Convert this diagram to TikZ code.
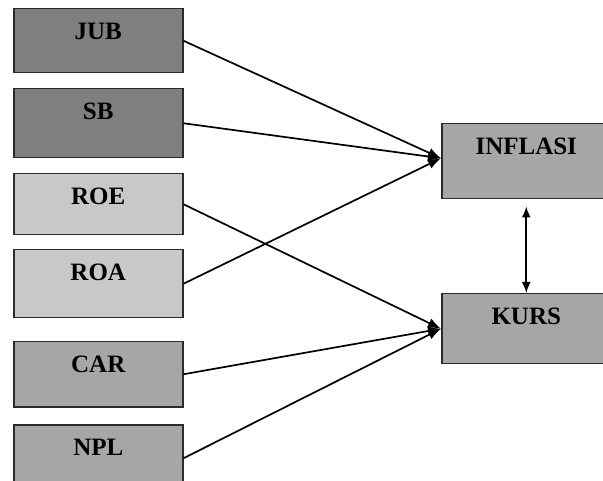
\documentclass[tikz,border=0pt]{standalone}
\usepackage{fontspec}
\setmainfont{Liberation Serif}
\usepackage{tikz}
\usetikzlibrary{positioning,calc,arrows.meta}
\definecolor{darkbox}{HTML}{7F7F7F}
\definecolor{lightbox}{HTML}{C8C8C8}
\definecolor{midbox}{HTML}{A6A6A6}
\definecolor{edgegray}{HTML}{2A2A2A}
\tikzset{
  varbox/.style={draw=edgegray, line width=1.5pt, rectangle, anchor=north west, inner sep=0pt,
    minimum width=169pt, text height=31pt, text depth=#1, font=\fontsize{25}{25}\selectfont\bfseries},
  link/.style={line width=1.7pt, -{Latex[length=13pt,width=10pt]}}
}

\begin{document}
\begin{tikzpicture}[x=1pt, y=-1pt]
    \path[use as bounding box, clip] (0,0) rectangle (603,481);
    \fill[white] (0,0) rectangle (603,481);

    % Independent variables
    \node[varbox=33pt, fill=darkbox] (jub) at (13,8) {JUB};
    \node[varbox=38pt, fill=darkbox] (sb) at (13,88) {SB};
    \node[varbox=30pt, fill=lightbox] (roe) at (13,173) {ROE};
    \node[varbox=37pt, fill=lightbox] (roa) at (13,249) {ROA};
    \node[varbox=34pt, fill=midbox] (car) at (13,341) {CAR};
    \node[varbox=36pt, fill=midbox] (npl) at (13,424) {NPL};

    % Dependent variables
    \node[varbox=44pt, fill=midbox] (inflasi) at (441,123) {INFLASI};
    \node[varbox=39pt, fill=midbox] (kurs) at (441,293) {KURS};

    % Paths
    \coordinate (toinf) at ($(inflasi.west)+(0,-3)$);
    \draw[link] (jub.east) -- (toinf);
    \draw[link] (sb.east) -- (toinf);
    \draw[link] (roa.east) -- (toinf);
    \draw[link] (roe.east) -- (kurs.west);
    \draw[link] (car.east) -- (kurs.west);
    \draw[link] (npl.east) -- (kurs.west);
    \draw[line width=1.7pt, {Latex[length=11pt,width=9pt]}-{Latex[length=11pt,width=9pt]}, shorten <=7pt]
        (inflasi.south) -- (kurs.north);
\end{tikzpicture}
\end{document}
